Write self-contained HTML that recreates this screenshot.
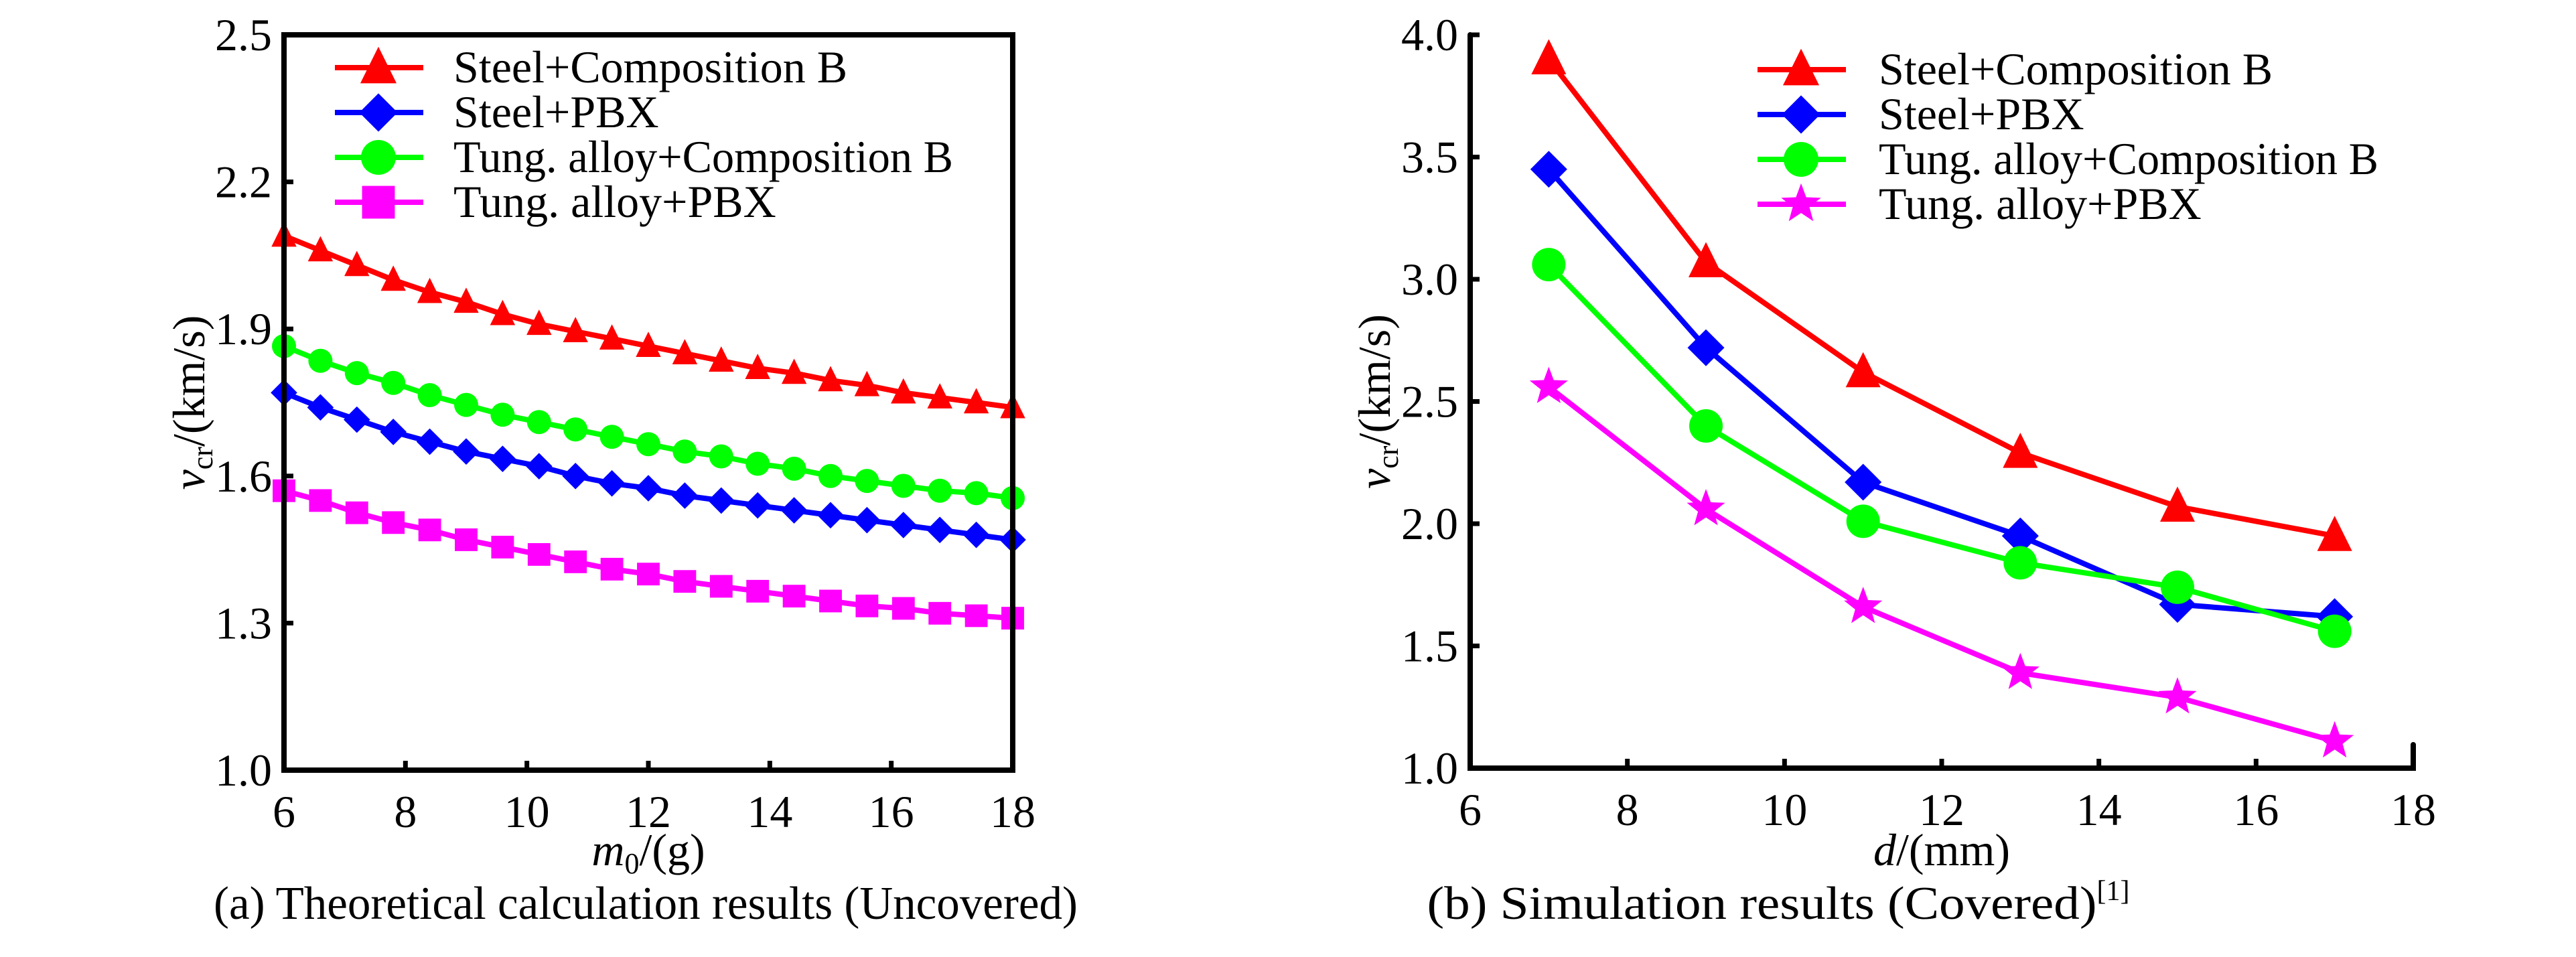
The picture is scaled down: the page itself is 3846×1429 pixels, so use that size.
<!DOCTYPE html>
<html><head><meta charset="utf-8"><style>
html,body{margin:0;padding:0;background:#fff;}
svg{display:block;}
svg text{font-family:"Liberation Serif","DejaVu Serif",serif;}
</style></head><body>
<svg id="fig" width="3846" height="1429" viewBox="0 0 3846 1429" font-family="Liberation Serif, serif">
<g id="ca"></g>
<g id="cb"></g>
</svg>
<script>
// Chart (a) data
const xA = [6,6.6,7.2,7.8,8.4,9,9.6,10.2,10.8,11.4,12,12.6,13.2,13.8,14.4,15,15.6,16.2,16.8,17.4,18];
const aSteelB = [2.09,2.06,2.03,2.00,1.975,1.955,1.93,1.91,1.895,1.88,1.865,1.85,1.835,1.82,1.81,1.795,1.785,1.77,1.76,1.75,1.74];
const aSteelPBX = [1.77,1.74,1.715,1.69,1.67,1.65,1.635,1.62,1.60,1.585,1.575,1.56,1.55,1.54,1.53,1.52,1.51,1.50,1.49,1.48,1.47];
const aTungB = [1.865,1.835,1.81,1.79,1.765,1.745,1.725,1.71,1.695,1.68,1.665,1.65,1.64,1.625,1.615,1.60,1.59,1.58,1.57,1.565,1.555];
const aTungPBX = [1.57,1.55,1.525,1.505,1.49,1.47,1.455,1.44,1.425,1.41,1.40,1.385,1.375,1.365,1.355,1.345,1.335,1.33,1.32,1.315,1.31];
const aYTicks = ["1.0","1.3","1.6","1.9","2.2","2.5"];
const aXTicks = ["6","8","10","12","14","16","18"];
// Chart (b) data
const xB = [7,9,11,13,15,17];
const bSteelB = [3.90,3.07,2.62,2.29,2.07,1.95];
const bSteelPBX = [3.45,2.72,2.17,1.95,1.67,1.62];
const bTungB = [3.06,2.40,2.01,1.84,1.74,1.56];
const bTungPBX = [2.56,2.06,1.66,1.39,1.29,1.11];
const bYTicks = ["1.0","1.5","2.0","2.5","3.0","3.5","4.0"];
const bXTicks = ["6","8","10","12","14","16","18"];
const legendNames = ["Steel+Composition B","Steel+PBX","Tung. alloy+Composition B","Tung. alloy+PBX"];

const NS="http://www.w3.org/2000/svg";
const FF="Liberation Serif, DejaVu Serif, serif";
function mk(parent,tag,attrs,text){const e=document.createElementNS(NS,tag);for(const k in attrs)e.setAttribute(k,attrs[k]);if(tag==="text")e.setAttribute("font-family",FF);if(text!==undefined)e.textContent=text;parent.appendChild(e);return e;}

function marker(g,type,cx,cy,s,color){
  let e;
  if(type==="tri"){e=mk(g,"polygon",{points:`${cx},${cy-s*0.6} ${cx+s*0.52},${cy+s*0.45} ${cx-s*0.52},${cy+s*0.45}`,fill:color});}
  else if(type==="dia"){e=mk(g,"polygon",{points:`${cx},${cy-s*0.55} ${cx+s*0.55},${cy} ${cx},${cy+s*0.55} ${cx-s*0.55},${cy}`,fill:color});}
  else if(type==="cir"){e=mk(g,"circle",{cx:cx,cy:cy,r:s*0.5,fill:color});}
  else if(type==="sq"){e=mk(g,"rect",{x:cx-s*0.47,y:cy-s*0.47,width:s*0.94,height:s*0.94,fill:color});}
  else {let p=[];for(let i=0;i<10;i++){const r=i%2?s*0.25:s*0.6;const a=-Math.PI/2+i*Math.PI/5;p.push((cx+r*Math.cos(a)).toFixed(1)+","+(cy+r*Math.sin(a)).toFixed(1));}e=mk(g,"polygon",{points:p.join(" "),fill:color});}
  return e;
}

function chart(root,cfg){
  const {L,R,T,B,xmin,xmax,ymin,ymax,yTicks,xTicks,series,box,msize,legX,legText,legY,yTitleX,xTitle,caption,capX,capExtra,capLen} = cfg;
  const sx=v=>L+(v-xmin)/(xmax-xmin)*(R-L);
  const sy=v=>B-(v-ymin)/(ymax-ymin)*(B-T);
  series.forEach(s=>{
    const g=mk(root,"g",{});
    
    
    const pts=s.x.map((xv,i)=>sx(xv).toFixed(1)+","+sy(s.y[i]).toFixed(1)).join(" ");
    mk(g,"polyline",{points:pts,fill:"none",stroke:s.color,"stroke-width":8,"stroke-linejoin":"round"});
    s.x.forEach((xv,i)=>{const m=marker(g,s.m,sx(xv),sy(s.y[i]),msize,s.color);
      
      });
  });
  const ax=mk(root,"g",{});
  
  
  if(box) mk(ax,"rect",{x:L,y:T,width:R-L,height:B-T,fill:"none",stroke:"#000","stroke-width":8});
  else mk(ax,"path",{d:`M${L},${T} L${L},${B} L${R},${B} L${R},${B-35}`,fill:"none",stroke:"#000","stroke-width":8,"stroke-linecap":"round"});
  yTicks.forEach(t=>{const y=sy(parseFloat(t));
    mk(ax,"line",{x1:L,y1:y,x2:L+14,y2:y,stroke:"#000","stroke-width":7});
    const tx=mk(ax,"text",{x:L-18,y:y+23,"text-anchor":"end","font-size":68},t);
    
    });
  xTicks.forEach(t=>{const x=sx(parseFloat(t));
    mk(ax,"line",{x1:x,y1:B,x2:x,y2:B-14,stroke:"#000","stroke-width":7});
    const tx=mk(ax,"text",{x:x,y:B+85,"text-anchor":"middle","font-size":68},t);
    
    });
  const yt=mk(root,"text",{transform:`translate(${yTitleX},${(T+B)/2}) rotate(-90)`,"text-anchor":"middle","font-size":68});
  
  
  mk(yt,"tspan",{"font-style":"italic"},"v");
  mk(yt,"tspan",{"font-size":44,dy:12},"cr");
  mk(yt,"tspan",{dy:-12},"/(km/s)");
  const xt=mk(root,"text",{x:(L+R)/2,y:1292,"text-anchor":"middle","font-size":68});
  
  
  mk(xt,"tspan",{"font-style":"italic"},xTitle[0]);
  if(xTitle[1]) mk(xt,"tspan",{"font-size":44,dy:12},xTitle[1]);
  mk(xt,"tspan",{dy:xTitle[1]?-12:0},xTitle[2]);
  const cp=mk(root,"text",{x:capX,y:1372,"text-anchor":"middle","font-size":70});
  
  
  mk(cp,"tspan",{textLength:capLen,lengthAdjust:"spacingAndGlyphs"},caption);
  if(capExtra) mk(cp,"tspan",{"font-size":42,dy:-28},capExtra);
  const lg=mk(root,"g",{});
  
  
  series.forEach((s,i)=>{const y=legY+i*67;
    const e=mk(lg,"g",{});
    
    
    mk(e,"line",{x1:legX-65,y1:y,x2:legX+67,y2:y,stroke:s.color,"stroke-width":8});
    marker(e,s.m,legX,y,52,s.color);
    const at={x:legText,y:y+22,"font-size":68};
    if(i===2){at.textLength=746;at.lengthAdjust="spacingAndGlyphs";}
    mk(e,"text",at,legendNames[i]);});
}

chart(document.getElementById("ca"),{L:424,R:1512,T:52,B:1150,xmin:6,xmax:18,ymin:1.0,ymax:2.5,
  yTicks:aYTicks,xTicks:aXTicks,box:true,msize:36,legX:565,legText:677,legY:101,yTitleX:305,
  xTitle:["m","0","/(g)"],caption:"(a)  Theoretical calculation results (Uncovered)",capX:964,capLen:1290,
  series:[{name:"series-steel-compb",x:xA,y:aSteelB,color:"#ff0000",m:"tri"},
          {name:"series-steel-pbx",x:xA,y:aSteelPBX,color:"#0000ff",m:"dia"},
          {name:"series-tung-compb",x:xA,y:aTungB,color:"#00ff00",m:"cir"},
          {name:"series-tung-pbx",x:xA,y:aTungPBX,color:"#ff00ff",m:"sq"}]});
chart(document.getElementById("cb"),{L:2195,R:3603,T:52,B:1147,xmin:6,xmax:18,ymin:1.0,ymax:4.0,
  yTicks:bYTicks,xTicks:bXTicks,box:false,msize:50,legX:2689,legText:2805,legY:104,yTitleX:2075,
  xTitle:["d","","/(mm)"],caption:"(b)  Simulation results (Covered)",capExtra:"[1]",capX:2655,capLen:1000,
  series:[{name:"series-steel-compb",x:xB,y:bSteelB,color:"#ff0000",m:"tri"},
          {name:"series-steel-pbx",x:xB,y:bSteelPBX,color:"#0000ff",m:"dia"},
          {name:"series-tung-compb",x:xB,y:bTungB,color:"#00ff00",m:"cir"},
          {name:"series-tung-pbx",x:xB,y:bTungPBX,color:"#ff00ff",m:"star"}]});
</script>
</body></html>
